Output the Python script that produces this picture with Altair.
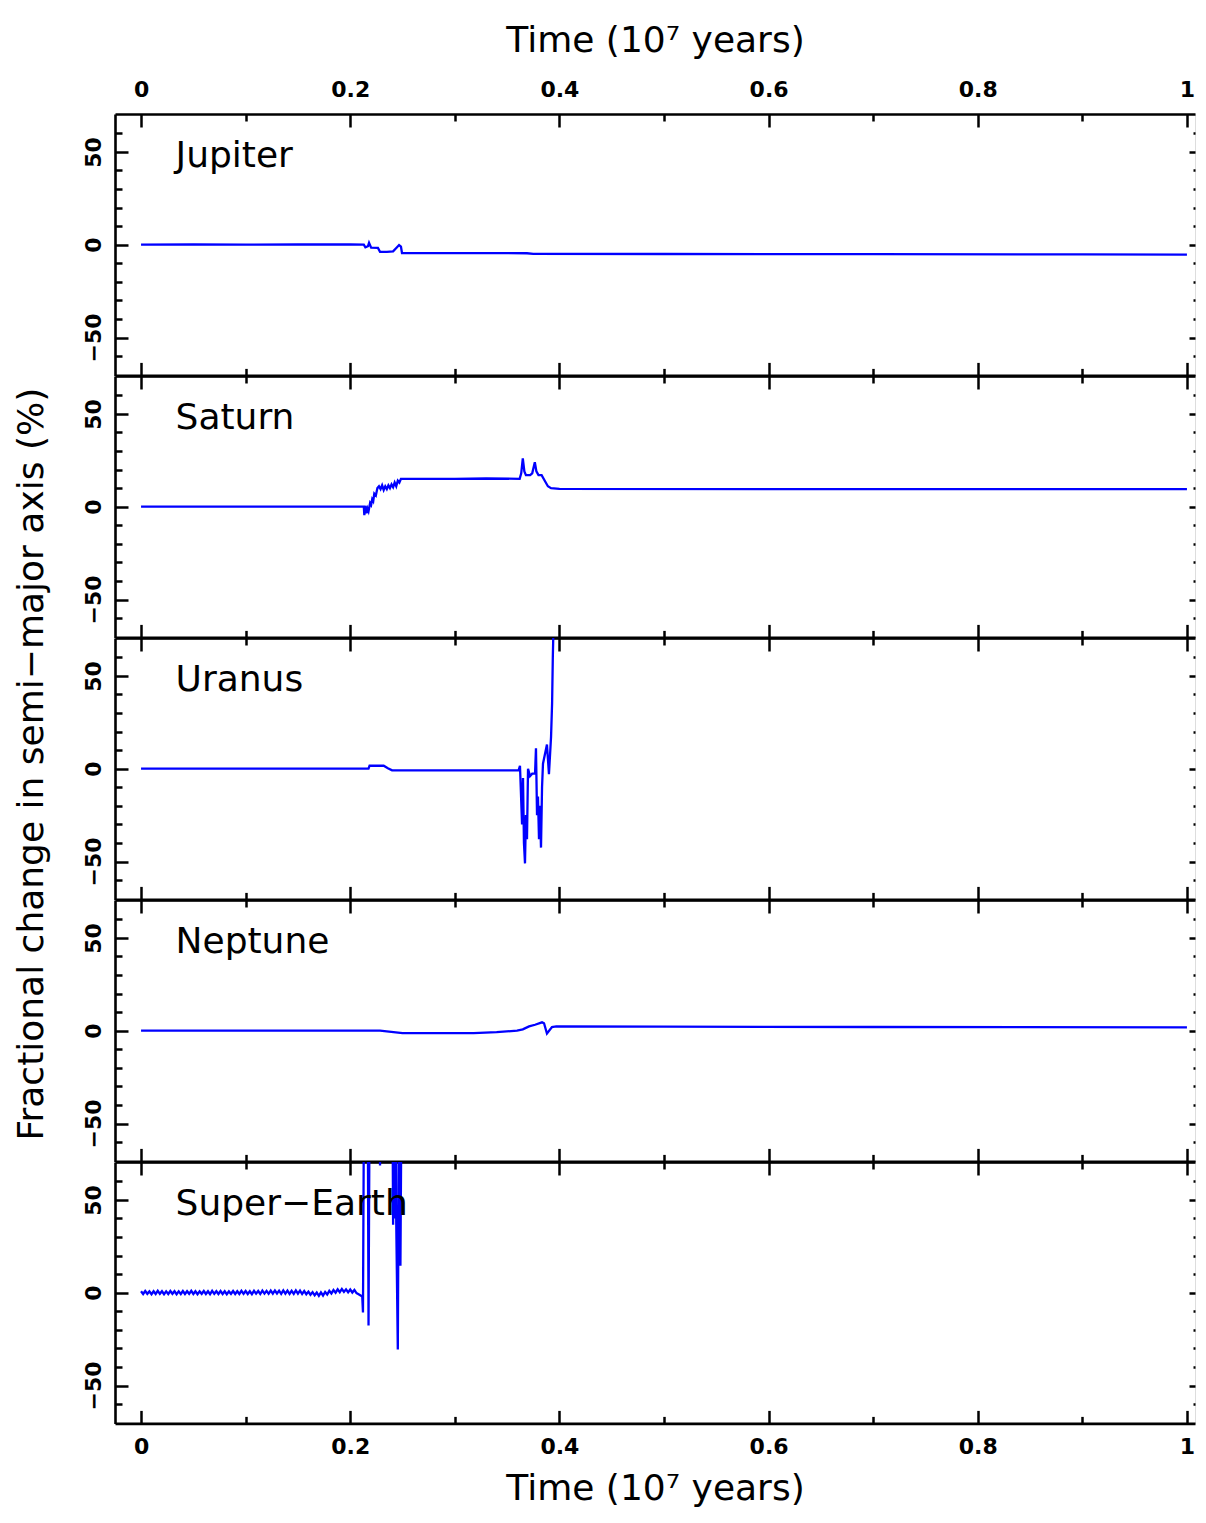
import altair as alt
import pandas as pd

# ---------------- data ----------------
names = ["Jupiter", "Saturn", "Uranus", "Neptune", "Super\u2212Earth"]

jup_t = [0.0, 0.05, 0.10, 0.15, 0.20, 0.213, 0.2145, 0.217, 0.218, 0.220, 0.2265, 0.2285,
         0.235, 0.241, 0.2445, 0.2467, 0.2485, 0.2495, 0.30, 0.369, 0.375, 0.5, 0.7, 0.9, 1.0]
jup_v = [0.0, 0.1, 0.0, 0.1, 0.1, 0.0, -1.4, -0.8, 1.0, -1.6, -1.7, -3.8,
         -3.9, -3.6, -1.5, -0.2, -1.0, -4.5, -4.5, -4.6, -4.9, -5.0, -5.1, -5.2, -5.3]

sat_t = [0.0, 0.1, 0.2, 0.213, 0.2135, 0.2145, 0.2155, 0.2165, 0.2175, 0.2190, 0.2200, 0.2210,
         0.2220, 0.2230, 0.2245, 0.2260, 0.2275, 0.2290, 0.2305, 0.2320, 0.2335, 0.2350, 0.2365,
         0.2380, 0.2395, 0.2410, 0.2425, 0.2440, 0.2455, 0.2470, 0.2485, 0.2500, 0.30, 0.33,
         0.362, 0.3635, 0.365, 0.3665, 0.368, 0.372, 0.374, 0.3765, 0.378, 0.380, 0.383, 0.386,
         0.389, 0.392, 0.40, 0.6, 0.8, 1.0]
sat_v = [0.0, 0.0, 0.0, 0.0, -4.5, 0.5, -3.5, -1.0, -2.5, 2.0, 1.0, 4.0,
         3.0, 7.0, 6.0, 10.0, 11.0, 9.5, 11.5, 9.0, 11.0, 9.5, 11.5,
         10.0, 12.0, 10.5, 13.0, 11.0, 14.0, 13.0, 15.0, 15.0, 15.0, 15.2,
         15.0, 18.0, 26.0, 19.0, 17.0, 17.0, 18.0, 24.0, 19.0, 17.0, 17.0, 14.0,
         11.0, 10.0, 9.6, 9.5, 9.5, 9.5]

ura_t = [0.0, 0.1, 0.2, 0.2175, 0.2185, 0.232, 0.236, 0.240, 0.30, 0.3610, 0.3623, 0.3643,
         0.3652, 0.3661, 0.3671, 0.3680, 0.3690, 0.3700, 0.3719, 0.3740, 0.3767, 0.3776, 0.3786,
         0.3795, 0.3805, 0.3814, 0.3824, 0.3834, 0.3843, 0.3881, 0.3900, 0.3920, 0.3930, 0.3937,
         0.3945]
ura_v = [0.0, 0.0, 0.0, 0.0, 1.6, 1.6, 0.3, -0.9, -0.9, -0.9, 1.6, -30.0,
         -5.0, -40.0, -51.0, -25.0, -38.0, 0.0, -4.0, -2.7, -2.7, 11.0, -25.0,
         -15.0, -38.0, -20.0, -42.5, -10.0, 2.7, 13.0, -3.0, 17.0, 35.0, 60.0,
         80.0]

nep_t = [0.0, 0.1, 0.2, 0.2285, 0.25, 0.30, 0.318, 0.34, 0.3595, 0.365, 0.371, 0.3767,
         0.3834, 0.3853, 0.3881, 0.3929, 0.397, 0.5, 0.7, 1.0]
nep_v = [0.0, 0.0, 0.0, 0.0, -1.3, -1.3, -1.3, -0.8, 0.0, 0.7, 2.3, 3.2,
         4.5, 4.0, -1.5, 2.0, 2.3, 2.2, 2.0, 1.8]

# Super-Earth: noisy band (sampled every 0.002) followed by the ejection spikes
se_noise_v = [0.8, -0.7, 0.9, -0.6, 0.7, -0.8, 0.8, -0.7, 1.0, -0.6,
              0.8, -0.8, 0.7, -0.7, 0.9, -0.6, 0.8, -0.8, 0.7, -0.7,
              0.9, -0.7, 0.8, -0.6, 1.0, -0.7, 0.8, -0.8, 0.7, -0.6,
              0.9, -0.7, 0.8, -0.8, 1.0, -0.6, 0.8, -0.7, 0.9, -0.7,
              0.8, -0.8, 0.7, -0.6, 0.9, -0.7, 0.8, -0.7, 1.0, -0.6,
              0.9, -0.7, 0.8, -0.8, 1.0, -0.5, 0.9, -0.7, 1.1, -0.5,
              1.0, -0.6, 1.1, -0.5, 1.2, -0.4, 1.1, -0.6, 1.2, -0.5,
              1.1, -0.7, 1.0, -0.6, 1.2, -0.5, 1.1, -0.7, 0.9, -0.8,
              0.6, -1.1, 0.3, -1.4, 0.1, -1.7, 0.2, -1.5, 0.4, -1.0,
              1.0, -0.4, 1.4, 0.0, 1.8, 0.3, 2.0, 0.4, 1.8, 0.2,
              1.7, 0.1, 1.5, -0.2, -0.8]
se_noise_t = [round(0.002 * k, 3) for k in range(len(se_noise_v))]
se_spike_t = [0.2115, 0.2122, 0.2135, 0.2165, 0.2175, 0.2189, 0.2280, 0.2285, 0.2290,
              0.2400, 0.2410, 0.2418, 0.2425, 0.2432, 0.2440, 0.2455, 0.2470, 0.2480, 0.2495]
se_spike_v = [-2.0, -10.7, 150.0, 150.0, -17.7, 150.0, 150.0, 68.5, 150.0,
              150.0, 36.6, 150.0, 40.0, 150.0, 38.0, -30.6, 150.0, 14.5, 150.0]
se_t = se_noise_t + se_spike_t
se_v = se_noise_v + se_spike_v

series_t = [jup_t, sat_t, ura_t, nep_t, se_t]
series_v = [jup_v, sat_v, ura_v, nep_v, se_v]

x_major = [0, 0.2, 0.4, 0.6, 0.8, 1.0]
x_minor = [0.1, 0.3, 0.5, 0.7, 0.9]
y_major = [-50, 0, 50]
y_minor = [-60, -40, -30, -20, -10, 10, 20, 30, 40, 60]

label_x = 0.033
label_y = 42

x_title = "Time (10\u2077 years)"
y_title = "Fractional change in semi\u2212major axis (%)"

# ---------------- styling ----------------
X_DOMAIN = [-0.0249, 1.0077]
Y_DOMAIN = [-70.4, 70.4]
FONT = "DejaVu Sans"
BLUE = "#0000ff"
W = 1080
H = 261.4
MAJ = 13
MIN = 7


def xs():
    return alt.Scale(domain=X_DOMAIN, nice=False, zero=False)


def ys():
    return alt.Scale(domain=Y_DOMAIN, nice=False, zero=False)


def tick_axis(orient, values, size, offset=None, **kw):
    base = dict(orient=orient, values=values, tickSize=size,
                offset=-size if offset is None else offset, tickWidth=2.5,
                tickColor="black", domain=False, grid=False, labels=False, title=None,
                minExtent=0)
    base.update(kw)
    return alt.Axis(**base)


def domain_axis(orient):
    return alt.Axis(orient=orient, domain=True, domainColor="black", domainWidth=2.6,
                    ticks=False, labels=False, grid=False, title=None, offset=0, minExtent=0)


label_style = dict(labelFont=FONT, labelFontSize=22, labelFontWeight="bold", labelColor="black")
title_style = dict(titleFont=FONT, titleFontSize=36, titleFontWeight="normal")


def panel(i):
    df = pd.DataFrame({"t": series_t[i], "v": series_v[i]})
    dummy = pd.DataFrame({"t": [0.5], "v": [0.0]})
    first = i == 0
    last = i == len(names) - 1

    bottom_kw = {}
    if last:
        bottom_kw = dict(labels=True, format="~g", labelPadding=13, labelFlush=False,
                         title=x_title, titlePadding=14, titleColor="black", **label_style,
                         **title_style)
    top_kw = {}
    if first:
        top_kw = dict(labels=True, format="~g", labelPadding=13, labelFlush=False,
                      title=x_title, titlePadding=19, titleColor="black", **label_style,
                      **title_style)

    left_kw = dict(labels=True, format="d", labelAngle=270, labelAlign="center",
                   labelBaseline="alphabetic", labelPadding=15, labelFlush=False,
                   **label_style)

    line = alt.Chart(df).mark_line(color=BLUE, strokeWidth=2.3, clip=True).encode(
        x=alt.X("t:Q", scale=xs(), axis=tick_axis("bottom", x_major, MAJ, **bottom_kw)),
        y=alt.Y("v:Q", scale=ys(), axis=tick_axis("left", y_major, MAJ, **left_kw)),
    )
    l2 = alt.Chart(dummy).mark_point(opacity=0, clip=True).encode(
        x=alt.X("t:Q", scale=xs(), axis=tick_axis("bottom", x_minor, MIN)),
        y=alt.Y("v:Q", scale=ys(), axis=tick_axis("left", y_minor, MIN)),
    )
    # right-hand ticks: a left-oriented axis moved to the right edge, ticks pointing inward
    l3 = alt.Chart(dummy).mark_point(opacity=0, clip=True).encode(
        x=alt.X("t:Q", scale=xs(), axis=tick_axis("top", x_major, MAJ, **top_kw)),
        y=alt.Y("v:Q", scale=ys(), axis=tick_axis("left", y_major, 6, offset=-W)),
    )
    l4 = alt.Chart(dummy).mark_point(opacity=0, clip=True).encode(
        x=alt.X("t:Q", scale=xs(), axis=tick_axis("top", x_minor, MIN)),
        y=alt.Y("v:Q", scale=ys(), axis=tick_axis("left", y_minor, 2, offset=-W)),
    )
    l5 = alt.Chart(dummy).mark_point(opacity=0, clip=True).encode(
        x=alt.X("t:Q", scale=xs(), axis=domain_axis("bottom")),
        y=alt.Y("v:Q", scale=ys(), axis=domain_axis("left")),
    )
    l6 = alt.Chart(dummy).mark_point(opacity=0, clip=True).encode(
        x=alt.X("t:Q", scale=xs(), axis=domain_axis("top")),
        y=alt.Y("v:Q", scale=ys(), axis=None),
    )
    lab = pd.DataFrame({"x": [label_x], "y": [label_y], "label": [names[i]]})
    txt = alt.Chart(lab).mark_text(align="left", baseline="alphabetic", font=FONT,
                                   fontSize=36, color="black").encode(
        x=alt.X("x:Q", scale=xs(), axis=None),
        y=alt.Y("y:Q", scale=ys(), axis=None),
        text="label:N",
    )
    return alt.layer(line, l2, l3, l4, l5, l6, txt).resolve_axis(
        x="independent", y="independent").properties(width=W, height=H)


chart = alt.vconcat(*[panel(i) for i in range(len(names))], spacing=0, bounds="flush").properties(
    title=alt.TitleParams(text=y_title, orient="left", anchor="middle", font=FONT,
                          fontSize=36, fontWeight="normal", color="black", offset=31),
    padding={"left": 5, "top": 13, "right": 0, "bottom": 0},
).configure_view(strokeWidth=0).configure(background="white")

chart.save("out.html", embed_options={"renderer": "svg", "actions": False})
